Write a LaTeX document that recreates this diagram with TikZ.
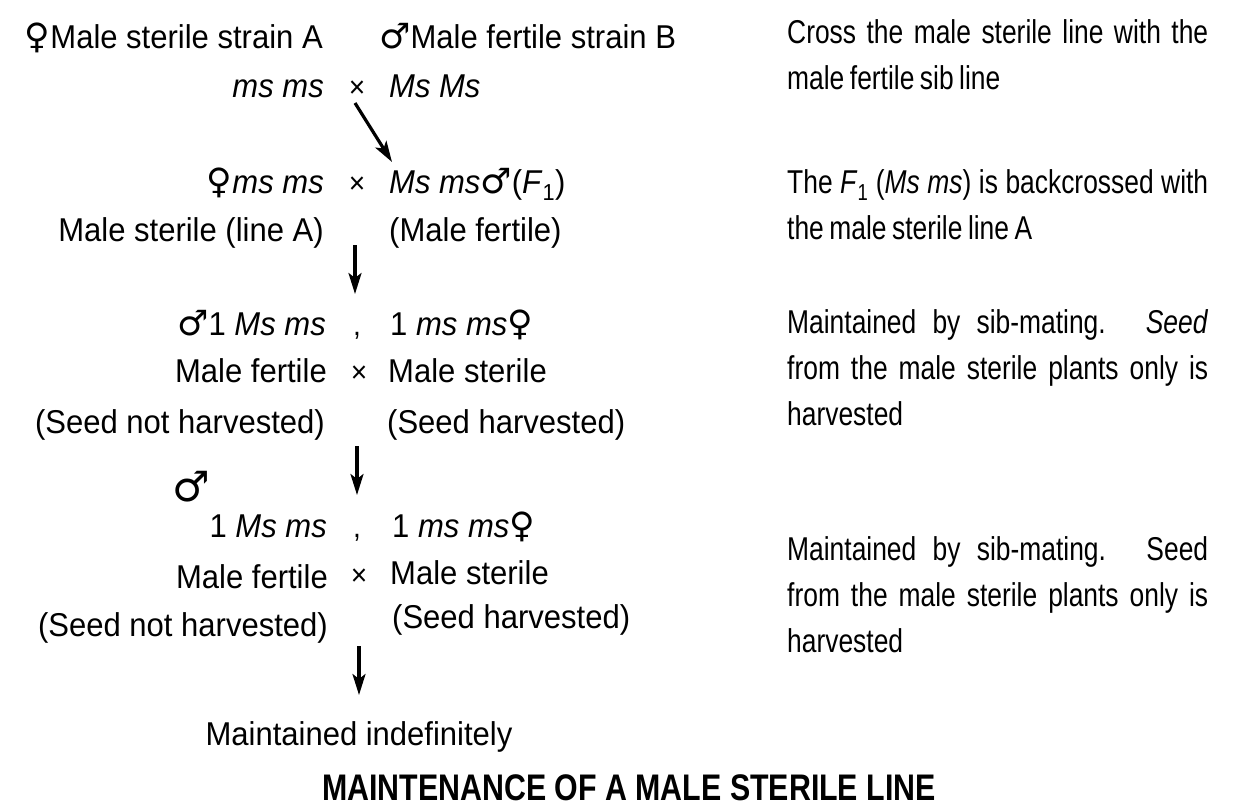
\documentclass[tikz,border=0pt]{standalone}
\usepackage{fontspec}
\setmainfont{Liberation Sans}[FakeStretch=0.94]
\newfontfamily\rfont{Liberation Sans}[FakeStretch=0.8,WordSpace=0.75]
\newfontfamily\tfont{Liberation Sans}[FakeStretch=0.82]
\newfontfamily\symf{DejaVu Sans}
\usetikzlibrary{arrows.meta}
\setlength{\parindent}{0pt}
\tolerance=10000
\hbadness=10000
\exhyphenpenalty=10000
\hyphenpenalty=10000
\newcommand\femsym{{\symf\fontsize{35}{35}\selectfont ♀}}
\newcommand\malsym{{\symf\fontsize{35}{35}\selectfont ♂}}
\tikzset{
  lt/.style={anchor=base east, inner sep=0pt, font=\fontsize{33}{40}\selectfont},
  rt/.style={anchor=base west, inner sep=0pt, font=\fontsize{33}{40}\selectfont},
  mid/.style={anchor=base, inner sep=0pt, font=\fontsize{30}{34}\selectfont},
  para/.style={anchor=north west, inner sep=0pt, text width=421pt, align=justify,
    font=\rfont\fontsize{33}{46}\selectfont},
  arr/.style={-{Stealth[length=21pt,width=13pt,inset=5pt]}, line width=3.2pt},
  ttl/.style={anchor=base, inner sep=0pt, font=\tfont\bfseries\fontsize{37}{40}\selectfont},
}
\begin{document}
\begin{tikzpicture}[x=1pt,y=-1pt]
\fill[white] (0,0) rectangle (1238,809);
\useasboundingbox (0,0) rectangle (1238,809);
% row 1-2
\node[lt] (r1l) at (323,48) {\femsym Male sterile strain A};
\node[rt] (r1r) at (379,48) {\malsym Male fertile strain B};
\node[lt] (r2l) at (324,97) {\textit{ms ms}};
\node[mid] (r2x) at (357,97) {×};
\node[rt] (r2r) at (389,97) {\textit{Ms Ms}};
% row 3-4
\node[lt] (r3l) at (324,193) {\femsym\textit{ms ms}};
\node[mid] (r3x) at (357,193) {×};
\node[rt] (r3r) at (389,193) {\textit{Ms ms}\malsym(\textit{F}\textsubscript{1})};
\node[lt] (r4l) at (324,241) {Male sterile (line A)};
\node[rt] (r4r) at (389,241) {(Male fertile)};
% row 5-7
\node[lt] (r5l) at (326,335) {\malsym 1 \textit{Ms ms}};
\node[mid] (r5c) at (357,335) {,};
\node[rt] (r5r) at (390,335) {1 \textit{ms ms}\femsym};
\node[lt] (r6l) at (327,382) {Male fertile};
\node[mid] (r6x) at (359,382) {×};
\node[rt] (r6r) at (388,382) {Male sterile};
\node[lt] (r7l) at (325,433) {(Seed not harvested)};
\node[rt] (r7r) at (387,433) {(Seed harvested)};
% row 8-10
\node[inner sep=0pt, font=\symf\fontsize{42}{42}\selectfont] (r8m) at (191,487) {♂};
\node[lt] (r8l) at (327,537) {1 \textit{Ms ms}};
\node[mid] (r8c) at (357,537) {,};
\node[rt] (r8r) at (392,537) {1 \textit{ms ms}\femsym};
\node[lt] (r9l) at (328,588) {Male fertile};
\node[mid] (r9x) at (359,585) {×};
\node[rt] (r9r) at (390,584) {Male sterile};
\node[lt] (r10l) at (328,636) {(Seed not harvested)};
\node[rt] (r10r) at (392,628) {(Seed harvested)};
\node[rt, anchor=base] (mi) at (359,745) {Maintained indefinitely};
\node[ttl] (title) at (629,800) {MAINTENANCE OF A MALE STERILE LINE};
% arrows
\coordinate (a1s) at (355,103); \coordinate (a1e) at (392,162);
\coordinate (a2s) at (355,245); \coordinate (a2e) at (355,294);
\coordinate (a3s) at (357,446); \coordinate (a3e) at (357,495);
\coordinate (a4s) at (359,646); \coordinate (a4e) at (359,695);
\draw[arr] (a1s) -- (a1e);
\draw[arr] (a2s) -- (a2e);
\draw[arr] (a3s) -- (a3e);
\draw[arr] (a4s) -- (a4e);
% right-hand notes
\node[para] (p1) at (787,10.8) {\strut Cross the male sterile line with the\linebreak male fertile sib line};
\node[para] (p2) at (787,160.8) {\strut The \textit{F}\textsubscript{1} (\textit{Ms ms}) is backcrossed with\linebreak the male sterile line A};
\node[para] (p3) at (787,300.8) {\strut Maintained by sib-mating. \textit{Seed}\linebreak from the male sterile plants only is\linebreak harvested};
\node[para] (p4) at (787,527.8) {\strut Maintained by sib-mating. Seed\linebreak from the male sterile plants only is\linebreak harvested};
\end{tikzpicture}
\end{document}
